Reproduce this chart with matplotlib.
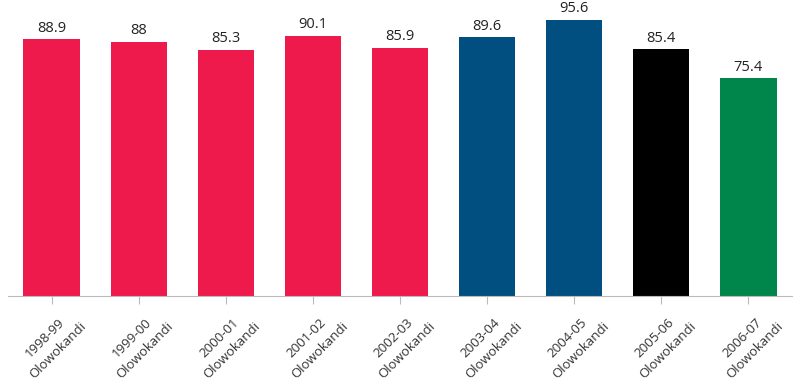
import matplotlib.pyplot as plt

plt.rcParams['font.family'] = ['Open Sans', 'DejaVu Sans']

seasons = ['1998-99', '1999-00', '2000-01', '2001-02', '2002-03',
           '2003-04', '2004-05', '2005-06', '2006-07']
player = 'Olowokandi'
values = [88.9, 88, 85.3, 90.1, 85.9, 89.6, 95.6, 85.4, 75.4]
value_labels = ['88.9', '88', '85.3', '90.1', '85.9', '89.6', '95.6', '85.4', '75.4']
colors = ['#ee1a4b'] * 5 + ['#004f80'] * 2 + ['#000000', '#00864a']

fig = plt.figure(figsize=(8, 3.92), dpi=100)
ax = fig.add_axes([0.01, 0.245, 0.98, 0.755])

x = range(len(values))
bars = ax.bar(x, values, width=0.645, color=colors)
for b, lab in zip(bars, value_labels):
    ax.text(b.get_x() + b.get_width() / 2, b.get_height() + 1.2, lab,
            ha='center', va='bottom', fontsize=10.5, color='#222222')

ax.set_xlim(-0.5, len(values) - 0.5)
ax.set_ylim(0, 102.5)
ax.set_xticks(list(x))
ax.set_xticklabels([s + '\n' + player for s in seasons], rotation=45,
                   ha='center', fontsize=9.5, color='#333333',
                   multialignment='center', linespacing=1.55)
ax.tick_params(axis='x', length=6, color='#bbbbbb', pad=2)
ax.set_yticks([])
for side in ['top', 'right', 'left']:
    ax.spines[side].set_visible(False)
ax.spines['bottom'].set_color('#bbbbbb')

fig.savefig('out.png', dpi=100)
